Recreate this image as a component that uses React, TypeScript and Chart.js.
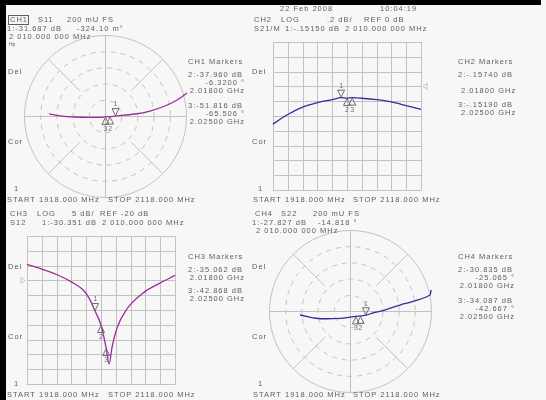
import React, { useEffect, useRef } from "react";
import { Chart, registerables } from "chart.js";

Chart.register(...registerables);

// ---------------- data ----------------
const FREQ_START = 1918; // MHz
const FREQ_STOP = 2118; // MHz
const MARKER_FREQ = [2010, 2018, 2025]; // MHz

// CH1 S11 polar, 200 mU full scale (real / imaginary, 1918 -> 2118 MHz)
const CH1_RE = [0.2025, 0.178, 0.148, 0.111, 0.074, 0.026, 0.0126, 0.0011, -0.037, -0.074, -0.111, -0.138];
const CH1_IM = [0.0568, 0.0395, 0.0247, 0.0123, 0.0049, -0.0001, -0.0014, -0.0023, -0.0035, -0.0025, 0.0005, 0.005];
const CH1_MKR_DB = [-31.687, -37.96, -51.816];
const CH1_MKR_DEG = [-0.3241, -6.32, -65.506];

// CH2 S21 log magnitude, .2 dB/div, ref 0 dB
const CH2_FREQ = [1918, 1928, 1938, 1958, 1978, 1998, 2010, 2018, 2025, 2038, 2058, 2078, 2098, 2118];
const CH2_DB = [-0.51, -0.44, -0.38, -0.28, -0.22, -0.178, -0.1515, -0.1574, -0.1519, -0.16, -0.18, -0.21, -0.26, -0.31];
const CH2_MKR_DB = [-0.1515, -0.1574, -0.1519];

// CH3 S12 log magnitude, 5 dB/div, ref -20 dB
const CH3_FREQ = [1918, 1938, 1958, 1978, 1995, 2003, 2010, 2018, 2025, 2029, 2033, 2040, 2052, 2074, 2097, 2118];
const CH3_DB = [-14.6, -16.2, -18.0, -20.5, -23.5, -26.5, -30.351, -35.062, -42.868, -48.2, -42.5, -35.8, -30.0, -24.4, -21.0, -18.3];
const CH3_MKR_DB = [-30.351, -35.062, -42.868];

// CH4 S22 polar, 200 mU full scale
const CH4_RE = [0.2, 0.1975, 0.1556, 0.1235, 0.0815, 0.0568, 0.0393, 0.026, 0.0145, -0.0222, -0.079, -0.1235];
const CH4_IM = [0.052, 0.0395, 0.0235, 0.0148, 0.0012, -0.0049, -0.0104, -0.0122, -0.0134, -0.018, -0.0185, -0.0099];
const CH4_MKR_DB = [-27.827, -30.835, -34.087];
const CH4_MKR_DEG = [-14.818, -25.065, -42.667];

const POLAR_FS = 0.2;
const POLAR_RINGS = [0.2, 0.4, 0.6, 0.8];

// ---------------- styles ----------------
const BG = "#f7f7f7";
const GRID = "#c2c2c2";
const TEXT = "#5e5e5e";
const MARK = "#6e6e6e";
const PURPLE = "#9b2d9b";
const BLUE = "#2e2e9e";
const FONT = '"Liberation Sans", Arial, sans-serif';

type Align = "left" | "right" | "center";
type TextItem = [string, number, number, Align?, number?];

const fmtFreq = (f: number) => `${Math.floor(f / 1000)} ${String(f % 1000).padStart(3, "0")}.000 000 MHz`;
const fmtGHz = (f: number) => `${(f / 1000).toFixed(5)} GHz`;
const fmtDb = (v: number, d: number) => v.toFixed(d).replace(/^(-?)0\./, "$1.");
const polarPt = (db: number, deg: number) => {
  const m = Math.pow(10, db / 20);
  const a = (deg * Math.PI) / 180;
  return { x: m * Math.cos(a), y: m * Math.sin(a) };
};

function drawTexts(ctx: CanvasRenderingContext2D, items: TextItem[]) {
  ctx.save();
  ctx.fillStyle = TEXT;
  ctx.textBaseline = "middle";
  for (const [s, x, y, align = "left", size = 7.5] of items) {
    ctx.font = `${size}px ${FONT}`;
    (ctx as any).letterSpacing = size < 6 ? "0px" : "1px";
    ctx.textAlign = align;
    ctx.fillText(s, x, y);
  }
  ctx.restore();
}

function drawMarker(ctx: CanvasRenderingContext2D, px: number, py: number, label: string, active: boolean) {
  ctx.save();
  ctx.strokeStyle = MARK;
  ctx.lineWidth = 1;
  ctx.beginPath();
  if (active) {
    ctx.moveTo(px - 3.5, py - 7.5);
    ctx.lineTo(px + 3.5, py - 7.5);
    ctx.lineTo(px, py - 0.5);
  } else {
    ctx.moveTo(px, py + 0.5);
    ctx.lineTo(px - 3.5, py + 7.5);
    ctx.lineTo(px + 3.5, py + 7.5);
  }
  ctx.closePath();
  ctx.stroke();
  ctx.fillStyle = MARK;
  ctx.font = `7px ${FONT}`;
  ctx.textAlign = "center";
  ctx.textBaseline = "middle";
  ctx.fillText(label, px, active ? py - 11.5 : py + 12);
  ctx.restore();
}

function drawPolarGrid(chart: any) {
  const { ctx, scales } = chart;
  const cx = Math.round(scales.x.getPixelForValue(0)) + 0.5;
  const cy = Math.round(scales.y.getPixelForValue(0)) + 0.5;
  const R = scales.x.getPixelForValue(POLAR_FS) - scales.x.getPixelForValue(0);
  ctx.save();
  ctx.strokeStyle = GRID;
  ctx.lineWidth = 1;
  ctx.beginPath();
  ctx.arc(cx, cy, R, 0, Math.PI * 2);
  ctx.stroke();
  ctx.setLineDash([5, 5]);
  for (const f of POLAR_RINGS) {
    ctx.beginPath();
    ctx.arc(cx, cy, R * f, 0, Math.PI * 2);
    ctx.stroke();
  }
  ctx.setLineDash([]);
  ctx.beginPath();
  ctx.moveTo(cx - R, cy);
  ctx.lineTo(cx + R, cy);
  ctx.moveTo(cx, cy - R);
  ctx.lineTo(cx, cy + R);
  for (const a of [45, 135, 225, 315]) {
    const r = (a * Math.PI) / 180;
    ctx.moveTo(cx + Math.cos(r) * R * 0.45, cy + Math.sin(r) * R * 0.45);
    ctx.lineTo(cx + Math.cos(r) * R, cy + Math.sin(r) * R);
  }
  ctx.stroke();
  ctx.restore();
}

function drawLogGrid(chart: any, yMin: number, yMax: number, ref: number, refSide: "left" | "right") {
  const { ctx, scales, chartArea } = chart;
  ctx.save();
  ctx.strokeStyle = GRID;
  ctx.lineWidth = 1;
  ctx.beginPath();
  for (let i = 0; i <= 10; i++) {
    const xv = FREQ_START + ((FREQ_STOP - FREQ_START) * i) / 10;
    const px = Math.round(scales.x.getPixelForValue(xv)) + 0.5;
    ctx.moveTo(px, chartArea.top);
    ctx.lineTo(px, chartArea.bottom + 0.5);
    const yv = yMin + ((yMax - yMin) * i) / 10;
    const py = Math.round(scales.y.getPixelForValue(yv)) + 0.5;
    ctx.moveTo(chartArea.left, py);
    ctx.lineTo(chartArea.right + 0.5, py);
  }
  ctx.stroke();
  // reference position arrow
  const ry = scales.y.getPixelForValue(ref);
  ctx.beginPath();
  if (refSide === "right") {
    const rx = chartArea.right + 2;
    ctx.moveTo(rx, ry);
    ctx.lineTo(rx + 4, ry - 3);
    ctx.lineTo(rx + 4, ry + 3);
  } else {
    const rx = chartArea.left - 2;
    ctx.moveTo(rx, ry);
    ctx.lineTo(rx - 4, ry - 3);
    ctx.lineTo(rx - 4, ry + 3);
  }
  ctx.closePath();
  ctx.stroke();
  ctx.restore();
}

function baseOptions(pad: { left: number; top: number; right: number; bottom: number }, xr: number[], yr: number[]) {
  return {
    animation: false,
    responsive: false,
    maintainAspectRatio: false,
    events: [],
    layout: { padding: pad },
    plugins: { legend: { display: false }, tooltip: { enabled: false }, title: { display: false } },
    scales: {
      x: { type: "linear", min: xr[0], max: xr[1], display: false },
      y: { type: "linear", min: yr[0], max: yr[1], display: false },
    },
  } as any;
}

function traceDataset(pts: { x: number; y: number }[], color: string, mono: boolean) {
  return {
    data: pts,
    showLine: true,
    borderColor: color,
    borderWidth: 1.3,
    pointRadius: 0,
    clip: false,
    ...(mono ? { cubicInterpolationMode: "monotone" } : { tension: 0.35 }),
  } as any;
}

function makeConfigs() {
  const W = 546;
  const H = 400;

  // ---------- CH1 ----------
  const ch1Pts = CH1_RE.map((x, i) => ({ x, y: CH1_IM[i] }));
  const ch1Mk = CH1_MKR_DB.map((d, i) => polarPt(d, CH1_MKR_DEG[i]));
  const ch1Texts: TextItem[] = [
    ["CH1", 10, 20],
    ["S11", 38, 20],
    ["200 mU FS", 67, 20],
    [`1:${fmtDb(CH1_MKR_DB[0], 3)} dB`, 7, 28.5],
    [`${(CH1_MKR_DEG[0] * 1000).toFixed(2)} m°`, 77, 28.5],
    [fmtFreq(MARKER_FREQ[0]), 9, 37],
    ["Hp", 9, 45, "left", 5],
    ["Del", 8, 72],
    ["Cor", 8, 142],
    ["1", 14, 189],
    [`START ${FREQ_START.toFixed(3)} MHz`, 7, 200],
    [`STOP ${FREQ_STOP.toFixed(3)} MHz`, 108, 200],
    ["CH1 Markers", 188, 62],
    [`2:${fmtDb(CH1_MKR_DB[1], 3)} dB`, 188, 75],
    [`${CH1_MKR_DEG[1].toFixed(4)} °`, 245, 83, "right"],
    [fmtGHz(MARKER_FREQ[1]), 245, 91, "right"],
    [`3:${fmtDb(CH1_MKR_DB[2], 3)} dB`, 188, 106],
    [`${CH1_MKR_DEG[2].toFixed(3)} °`, 245, 114, "right"],
    [fmtGHz(MARKER_FREQ[2]), 245, 122, "right"],
  ];
  const ch1 = {
    type: "scatter",
    data: { datasets: [traceDataset(ch1Pts, PURPLE, false)] },
    options: baseOptions({ left: 24, top: 35, right: W - 186, bottom: H - 197 }, [-POLAR_FS, POLAR_FS], [-POLAR_FS, POLAR_FS]),
    plugins: [
      {
        id: "ch1deco",
        beforeDatasetsDraw: (c: any) => drawPolarGrid(c),
        afterDatasetsDraw: (c: any) => {
          const { ctx, scales } = c;
          ch1Mk.forEach((p, i) =>
            drawMarker(ctx, scales.x.getPixelForValue(p.x), scales.y.getPixelForValue(p.y), String(i + 1), i === 0)
          );
          drawTexts(ctx, ch1Texts);
          ctx.save();
          ctx.strokeStyle = TEXT;
          ctx.lineWidth = 1;
          ctx.strokeRect(8.5, 15.5, 20, 9);
          ctx.restore();
        },
      },
    ],
  };

  // ---------- CH2 ----------
  const ch2Pts = CH2_FREQ.map((x, i) => ({ x, y: CH2_DB[i] }));
  const ch2Texts: TextItem[] = [
    ["22 Feb 2008", 280, 9],
    ["10:04:19", 380, 9],
    ["CH2", 254, 20],
    ["LOG", 281, 20],
    [".2 dB/", 327, 20],
    ["REF 0 dB", 364, 20],
    ["S21/M", 254, 28.5],
    [`1:${fmtDb(CH2_MKR_DB[0], 5)} dB`, 285, 28.5],
    [fmtFreq(MARKER_FREQ[0]), 345, 28.5],
    ["Del", 252, 72],
    ["Cor", 252, 142],
    ["1", 258, 189],
    [`START ${FREQ_START.toFixed(3)} MHz`, 253, 200],
    [`STOP ${FREQ_STOP.toFixed(3)} MHz`, 353, 200],
    ["CH2 Markers", 458, 62],
    [`2:${fmtDb(CH2_MKR_DB[1], 5)} dB`, 458, 75],
    [fmtGHz(MARKER_FREQ[1]), 461, 91],
    [`3:${fmtDb(CH2_MKR_DB[2], 5)} dB`, 458, 105],
    [fmtGHz(MARKER_FREQ[2]), 461, 113],
  ];
  const ch2 = {
    type: "scatter",
    data: { datasets: [traceDataset(ch2Pts, BLUE, true)] },
    options: baseOptions({ left: 273, top: 42, right: W - 421, bottom: H - 190 }, [FREQ_START, FREQ_STOP], [-1.4, 0.6]),
    plugins: [
      {
        id: "ch2deco",
        beforeDatasetsDraw: (c: any) => drawLogGrid(c, -1.4, 0.6, 0, "right"),
        afterDatasetsDraw: (c: any) => {
          const { ctx, scales } = c;
          MARKER_FREQ.forEach((f, i) =>
            drawMarker(ctx, scales.x.getPixelForValue(f), scales.y.getPixelForValue(CH2_MKR_DB[i]), String(i + 1), i === 0)
          );
          drawTexts(ctx, ch2Texts);
        },
      },
    ],
  };

  // ---------- CH3 ----------
  const ch3Pts = CH3_FREQ.map((x, i) => ({ x, y: CH3_DB[i] }));
  const ch3Texts: TextItem[] = [
    ["CH3", 10, 214],
    ["LOG", 37, 214],
    ["5 dB/", 72, 214],
    ["REF -20 dB", 100, 214],
    ["S12", 10, 222.5],
    [`1:${fmtDb(CH3_MKR_DB[0], 3)} dB`, 42, 222.5],
    [fmtFreq(MARKER_FREQ[0]), 102, 222.5],
    ["Del", 8, 267],
    ["Cor", 8, 337],
    ["1", 14, 384],
    [`START ${FREQ_START.toFixed(3)} MHz`, 7, 395],
    [`STOP ${FREQ_STOP.toFixed(3)} MHz`, 108, 395],
    ["CH3 Markers", 188, 257],
    [`2:${fmtDb(CH3_MKR_DB[1], 3)} dB`, 188, 270],
    [fmtGHz(MARKER_FREQ[1]), 245, 278, "right"],
    [`3:${fmtDb(CH3_MKR_DB[2], 3)} dB`, 188, 291],
    [fmtGHz(MARKER_FREQ[2]), 245, 299, "right"],
  ];
  const ch3 = {
    type: "scatter",
    data: { datasets: [traceDataset(ch3Pts, PURPLE, true)] },
    options: baseOptions({ left: 27, top: 236, right: W - 175, bottom: H - 384 }, [FREQ_START, FREQ_STOP], [-55, -5]),
    plugins: [
      {
        id: "ch3deco",
        beforeDatasetsDraw: (c: any) => drawLogGrid(c, -55, -5, -20, "left"),
        afterDatasetsDraw: (c: any) => {
          const { ctx, scales } = c;
          MARKER_FREQ.forEach((f, i) =>
            drawMarker(ctx, scales.x.getPixelForValue(f), scales.y.getPixelForValue(CH3_MKR_DB[i]), String(i + 1), i === 0)
          );
          drawTexts(ctx, ch3Texts);
        },
      },
    ],
  };

  // ---------- CH4 ----------
  const ch4Pts = CH4_RE.map((x, i) => ({ x, y: CH4_IM[i] }));
  const ch4Mk = CH4_MKR_DB.map((d, i) => polarPt(d, CH4_MKR_DEG[i]));
  const ch4Texts: TextItem[] = [
    ["CH4", 255, 214],
    ["S22", 281, 214],
    ["200 mU FS", 313, 214],
    [`1:${fmtDb(CH4_MKR_DB[0], 3)} dB`, 252, 222.5],
    [`${CH4_MKR_DEG[0].toFixed(3)} °`, 318, 222.5],
    [fmtFreq(MARKER_FREQ[0]), 256, 231],
    ["Del", 252, 267],
    ["Cor", 252, 337],
    ["1", 258, 384],
    [`START ${FREQ_START.toFixed(3)} MHz`, 253, 395],
    [`STOP ${FREQ_STOP.toFixed(3)} MHz`, 353, 395],
    ["CH4 Markers", 458, 257],
    [`2:${fmtDb(CH4_MKR_DB[1], 3)} dB`, 458, 270],
    [`${CH4_MKR_DEG[1].toFixed(3)} °`, 515, 278, "right"],
    [fmtGHz(MARKER_FREQ[1]), 515, 286, "right"],
    [`3:${fmtDb(CH4_MKR_DB[2], 3)} dB`, 458, 301],
    [`${CH4_MKR_DEG[2].toFixed(3)} °`, 515, 309, "right"],
    [fmtGHz(MARKER_FREQ[2]), 515, 317, "right"],
  ];
  const ch4 = {
    type: "scatter",
    data: { datasets: [traceDataset(ch4Pts, BLUE, false)] },
    options: baseOptions({ left: 269, top: 230, right: W - 431, bottom: H - 392 }, [-POLAR_FS, POLAR_FS], [-POLAR_FS, POLAR_FS]),
    plugins: [
      {
        id: "ch4deco",
        beforeDatasetsDraw: (c: any) => drawPolarGrid(c),
        afterDatasetsDraw: (c: any) => {
          const { ctx, scales } = c;
          ch4Mk.forEach((p, i) =>
            drawMarker(ctx, scales.x.getPixelForValue(p.x), scales.y.getPixelForValue(p.y), String(i + 1), i === 0)
          );
          drawTexts(ctx, ch4Texts);
        },
      },
    ],
  };

  return [ch1, ch2, ch3, ch4];
}

export default function App() {
  const r1 = useRef<HTMLCanvasElement>(null);
  const r2 = useRef<HTMLCanvasElement>(null);
  const r3 = useRef<HTMLCanvasElement>(null);
  const r4 = useRef<HTMLCanvasElement>(null);
  const refs = [r1, r2, r3, r4];

  useEffect(() => {
    const cfgs = makeConfigs();
    const charts = cfgs.map((cfg, i) => new Chart(refs[i].current as HTMLCanvasElement, cfg as any));
    return () => charts.forEach((c) => c.destroy());
  }, []);

  return (
    <div style={{ position: "absolute", left: 0, top: 0, width: 546, height: 400, background: BG, overflow: "hidden" }}>
      {refs.map((r, i) => (
        <canvas key={i} ref={r} width={546} height={400} style={{ position: "absolute", left: 0, top: 0, width: 546, height: 400 }} />
      ))}
      <div style={{ position: "absolute", left: 0, top: 0, width: 541, height: 5, background: "#000" }} />
      <div style={{ position: "absolute", left: 0, top: 0, width: 6, height: 400, background: "#000" }} />
    </div>
  );
}
